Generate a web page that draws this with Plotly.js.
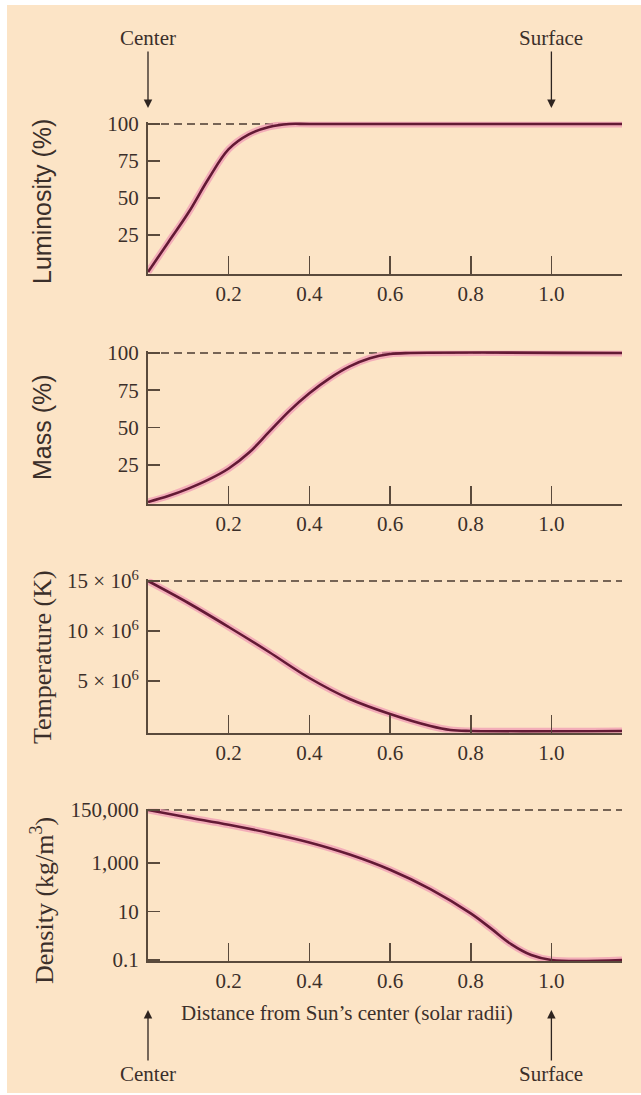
<!DOCTYPE html>
<html>
<head>
<meta charset="utf-8">
<script src="https://cdn.plot.ly/plotly-3.0.1.min.js"></script>
<style>
html,body{margin:0;padding:0;background:#ffffff;}
#chart{position:absolute;left:7px;top:5px;width:634px;height:1088px;}
</style>
</head>
<body>
<div id="chart"></div>
<script>
// ---------- DATA ----------
const xMax = 1.175;
const xTickVals = [0.2, 0.4, 0.6, 0.8, 1.0];
const xTickText = ['0.2', '0.4', '0.6', '0.8', '1.0'];

// Luminosity (%)
const lumX = [0, 0.05, 0.10, 0.15, 0.20, 0.25, 0.30, 0.35, 0.40, 1.175];
const lumY = [0, 20, 40, 63, 83, 93, 98, 100, 100, 100];

// Mass (%)
const massX = [0, 0.05, 0.10, 0.15, 0.20, 0.25, 0.30, 0.35, 0.40, 0.45, 0.50, 0.55, 0.60, 0.65, 1.175];
const massY = [0, 4, 9, 15, 22.5, 33, 47, 61, 73, 83, 91, 96.5, 99.3, 100, 100];

// Temperature (K)
const tempX = [0, 0.10, 0.20, 0.30, 0.40, 0.50, 0.60, 0.70, 0.75, 0.80, 1.175];
const tempY = [15e6, 12.8e6, 10.4e6, 7.9e6, 5.3e6, 3.2e6, 1.7e6, 0.5e6, 0.1e6, 0, 0];

// Density (kg/m^3)
const densX = [0, 0.10, 0.20, 0.30, 0.40, 0.50, 0.60, 0.70, 0.80, 0.85, 0.90, 0.95, 1.00, 1.175];
const densY = [150000, 74000, 37000, 17000, 6900, 2200, 520, 83, 8.3, 2.0, 0.45, 0.16, 0.1, 0.1];

// Reference (dashed) levels
const refLevels = [100, 100, 15e6, 150000];

// Tick labels
const pctTickVals = [25, 50, 75, 100];
const pctTickText = ['25', '50', '75', '100'];
const tempTickVals = [5e6, 10e6, 15e6];
const tempTickText = ['5 × 10<sup>6</sup>', '10 × 10<sup>6</sup>', '15 × 10<sup>6</sup>'];
const densTickVals = [0.1, 10, 1000, 150000];
const densTickText = ['0.1', '10', '1,000', '150,000'];

const panelTitles = ['Luminosity (%)', 'Mass (%)', 'Temperature (K)', 'Density (kg/m<sup>3</sup>)'];
const markerTexts = ['Center', 'Surface'];
const markerX = [0, 1.0];
const xTitle = 'Distance from Sun’s center (solar radii)';

// ---------- STYLE / GEOMETRY ----------
const W = 634, H = 1088, OFFX = 7, OFFY = 5;
const PLOT_L = 148, PLOT_R = 622;
const serif = 'Liberation Serif, Times New Roman, serif';
const sans = 'Liberation Sans, Arial, sans-serif';
const textColor = '#3b2f2a';
const axisColor = '#5a4a3c';
const curveColor = '#641a35';
const haloColor = 'rgba(240,150,178,0.7)';
const dashColor = '#4a3a30';
const bg = '#fce4c6';

function fy(pageY) { return 1 - (pageY - OFFY) / H; }
function fx(pageX) { return (pageX - PLOT_L) / (PLOT_R - PLOT_L); }

// per panel: value->page mapping anchors and axis range
const panels = [
  {vA: 0, pA: 272, vB: 100, pB: 124, range: [-1.2, 101.5], log: false},
  {vA: 0, pA: 502, vB: 100, pB: 353, range: [-1.2, 101.5], log: false},
  {vA: 0, pA: 731, vB: 15e6, pB: 581, range: [-0.18e6, 15.22e6], log: false},
  {vA: -1, pA: 960, vB: Math.log10(150000), pB: 810, range: [-1.05, 5.23], log: true}
];
function pageOf(p, v) { return p.pA + (v - p.vA) * (p.pB - p.pA) / (p.vB - p.vA); }

const seriesX = [lumX, massX, tempX, densX];
const seriesY = [lumY, massY, tempY, densY];
const yTickVals = [pctTickVals, pctTickVals, tempTickVals, densTickVals];
const yTickText = [pctTickText, pctTickText, tempTickText, densTickText];
const titleCenters = [202, 427, 657, 901];
const titleFonts = [
  {family: sans, size: 25, color: textColor},
  {family: sans, size: 25, color: textColor},
  {family: serif, size: 26, color: textColor},
  {family: serif, size: 26, color: textColor}
];

const traces = [];
const layout = {
  width: W, height: H,
  margin: {l: PLOT_L - OFFX, r: (OFFX + W) - PLOT_R, t: 0, b: 0},
  paper_bgcolor: bg, plot_bgcolor: 'rgba(0,0,0,0)',
  showlegend: false, hovermode: false,
  annotations: []
};

panels.forEach((p, i) => {
  const sfx = i === 0 ? '' : String(i + 1);
  const xa = 'x' + sfx, ya = 'y' + sfx;
  const top = pageOf(p, p.range[1]);
  const bot = pageOf(p, p.range[0]);
  layout['xaxis' + sfx] = {
    domain: [0, 1], anchor: ya, range: [0, xMax],
    showline: true, linecolor: axisColor, linewidth: 2,
    ticks: 'inside', ticklen: 18, tickwidth: 1.6, tickcolor: axisColor,
    tickmode: 'array', tickvals: xTickVals, ticktext: xTickText,
    tickfont: {family: serif, size: 21, color: textColor},
    ticklabelstandoff: 0,
    showgrid: false, zeroline: false, fixedrange: true
  };
  layout['yaxis' + sfx] = {
    domain: [fy(bot), fy(top)], anchor: xa,
    type: p.log ? 'log' : 'linear', range: p.range,
    showline: true, linecolor: axisColor, linewidth: 2,
    ticks: 'inside', ticklen: 12, tickwidth: 1.6, tickcolor: axisColor,
    tickmode: 'array', tickvals: yTickVals[i], ticktext: yTickText[i],
    tickfont: {family: serif, size: 21, color: textColor},
    ticklabelstandoff: 3,
    showgrid: false, zeroline: false, fixedrange: true
  };
  // dashed reference level
  traces.push({x: [0, xMax], y: [refLevels[i], refLevels[i]], xaxis: xa, yaxis: ya,
    mode: 'lines', line: {color: dashColor, width: 1.5, dash: '8px,5px'}});
  // halo
  traces.push({x: seriesX[i], y: seriesY[i], xaxis: xa, yaxis: ya, mode: 'lines',
    line: {color: haloColor, width: 7, shape: 'spline', smoothing: 1}});
  // main curve
  traces.push({x: seriesX[i], y: seriesY[i], xaxis: xa, yaxis: ya, mode: 'lines',
    line: {color: curveColor, width: 2.6, shape: 'spline', smoothing: 1}});
  // y title
  layout.annotations.push({xref: 'paper', yref: 'paper', x: fx(42), y: fy(titleCenters[i]),
    text: panelTitles[i], textangle: -90, showarrow: false, font: titleFonts[i],
    xanchor: 'center', yanchor: 'middle'});
});

const annFont = {family: serif, size: 21, color: textColor};
markerX.forEach((mx, j) => {
  layout.annotations.push({xref: 'x', yref: 'paper', x: mx, y: fy(108), ax: 0, ay: -70,
    text: markerTexts[j], showarrow: true, arrowhead: 2, arrowsize: 1.3, arrowwidth: 1.3,
    arrowcolor: '#2e2420', font: annFont});
  layout.annotations.push({xref: 'x4', yref: 'paper', x: mx, y: fy(1010), ax: 0, ay: 64,
    text: markerTexts[j], showarrow: true, arrowhead: 2, arrowsize: 1.3, arrowwidth: 1.3,
    arrowcolor: '#2e2420', font: annFont});
});
layout.annotations.push({xref: 'paper', yref: 'paper', x: fx(347), y: fy(1013),
  text: xTitle, showarrow: false, font: annFont, xanchor: 'center', yanchor: 'middle'});

Plotly.newPlot('chart', traces, layout, {staticPlot: true, displayModeBar: false});
</script>
</body>
</html>
